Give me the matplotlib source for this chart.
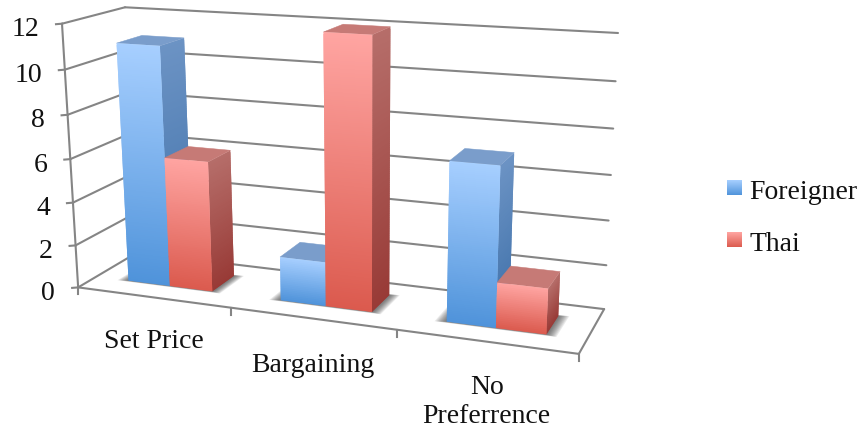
import numpy as np
import matplotlib
matplotlib.use("Agg")
import matplotlib.pyplot as plt
from matplotlib.collections import PolyCollection
from matplotlib.colors import to_rgb
from matplotlib.patches import Polygon

# Chart data
categories = ["Set Price", "Bargaining", "No\nPreferrence"]
series_names = ["Foreigner", "Thai"]
foreigner = [11, 2, 7]
thai = [6, 12, 2]
value_ticks = [0, 2, 4, 6, 8, 10, 12]

# Face colours per series: front top/bottom, side top/bottom, cap
palette = {
    "Foreigner": ("#A7CFFF", "#4F93DA", "#6C93C4", "#3E70A9", "#7A9DCB"),
    "Thai": ("#FFA5A2", "#DB5A4E", "#B66E6A", "#983A36", "#C67A76"),
}
GRID = "#858585"
FONT = "Liberation Serif"
W, H = 863, 431

# Oblique view of the chart box: (category, value, depth) -> canvas position
view_world = np.array([
    (0, 0, 0), (3, 0, 0), (3, 0, 1), (0, 0, 1), (0, 12, 0), (0, 12, 1), (3, 12, 1),
], float)
view_canvas = np.array([
    (78, 288), (579, 355), (604, 310), (137, 254), (62, 25), (125, 8), (618, 34),
], float)


def fit_view(world, canvas):
    rows, rhs = [], []
    for (x, y, z), (u, v) in zip(world, canvas):
        rows.append([x, y, z, 1, 0, 0, 0, 0, -u * x, -u * y, -u * z])
        rows.append([0, 0, 0, 0, x, y, z, 1, -v * x, -v * y, -v * z])
        rhs += [u, v]
    sol = np.linalg.lstsq(np.array(rows), np.array(rhs), rcond=None)[0]
    return np.append(sol, 1).reshape(3, 4)


VIEW = fit_view(view_world, view_canvas)


def project(x, y, z):
    h = VIEW @ np.array([x, y, z, 1.0])
    return h[0] / h[2], h[1] / h[2]


def mix(a, b, t):
    a, b = np.array(to_rgb(a)), np.array(to_rgb(b))
    return tuple(a + (b - a) * t)


def vertical_face(ax, corners_low, height, top, bottom, zorder):
    """Quad standing on two base corners, shaded in bands that overlap the next one."""
    (x0, z0), (x1, z1) = corners_low
    n = max(8, int(12 * height))
    levels = np.linspace(height, 0, n + 1)
    polys, cols = [], []
    for i in range(n):
        a, b = levels[i], levels[min(i + 2, n)]
        polys.append([project(x0, a, z0), project(x1, a, z1),
                      project(x1, b, z1), project(x0, b, z0)])
        cols.append(mix(top, bottom, (i + 0.5) / n))
    ax.add_collection(PolyCollection(polys, facecolors=cols, edgecolors="none",
                                     linewidths=0, zorder=zorder))


def draw_shadow(ax, x0, x1, z0, z1, zorder):
    steps = 9
    for k in range(steps):
        grow = 0.065 * (1 - k / steps)
        pts = [project(x0 - grow, 0, z0 - grow * 0.4), project(x1 + grow * 0.9, 0, z0 - grow * 0.4),
               project(x1 + grow * 0.9, 0, z1 + grow * 0.4), project(x0 - grow, 0, z1 + grow * 0.4)]
        ax.add_patch(Polygon(pts, closed=True, facecolor="#303030", edgecolor="none",
                             alpha=0.1, zorder=zorder))


def draw_bar(ax, x0, x1, z0, z1, value, colours, zorder):
    front_top, front_bot, side_top, side_bot, cap = colours
    vertical_face(ax, ((x1, z1), (x1, z0)), value, side_top, side_bot, zorder)
    ax.add_patch(Polygon([project(x0, value, z0), project(x1, value, z0),
                          project(x1, value, z1), project(x0, value, z1)],
                         closed=True, facecolor=cap, edgecolor=cap, linewidth=0.35,
                         zorder=zorder))
    vertical_face(ax, ((x0, z0), (x1, z0)), value, front_top, front_bot, zorder + 0.1)


def line3(ax, a, b, **kw):
    pa, pb = project(*a), project(*b)
    ax.plot([pa[0], pb[0]], [pa[1], pb[1]], color=GRID, lw=1.5,
            solid_capstyle="round", zorder=2, **kw)


fig = plt.figure(figsize=(W / 100, H / 100), dpi=100, facecolor="white")
ax = fig.add_axes([0, 0, 1, 1])
ax.set_xlim(0, W)
ax.set_ylim(H, 0)
ax.axis("off")

n_cat = len(categories)
top_value = value_ticks[-1]

# Gridlines on the back and side walls, with value labels
for v in value_ticks:
    line3(ax, (0, v, 0), (0, v, 1))
    line3(ax, (0, v, 1), (n_cat, v, 1))
    u, w = project(0, v, 0)
    ax.plot([u - 6, u], [w + 0.5, w], color=GRID, lw=1.5, zorder=2)
    ax.text(u - 23, w + 5, str(v), ha="right", va="center", fontsize=20,
            family=FONT, color="#111111")

# Chart box edges
line3(ax, (0, 0, 0), (0, top_value, 0))
line3(ax, (0, 0, 0), (n_cat, 0, 0))
line3(ax, (n_cat, 0, 0), (n_cat, 0, 1))

# Category ticks and labels along the front edge
for i in range(n_cat + 1):
    u, w = project(i, 0, 0)
    ax.plot([u, u], [w, w + 7], color=GRID, lw=1.5, zorder=2)
label_drop = [43, 46, 59.5]
for i, name in enumerate(categories):
    u, w = project(i + 0.5, 0, 0)
    ax.text(u + 1, w + label_drop[i], name, ha="center", va="center", fontsize=20,
            family=FONT, color="#111111", linespacing=1.25)

# Bars, left to right
gap = 0.22
bar_w = (1 - 2 * gap) / 2
z_front, z_back = 0.3, 0.72
for i in range(n_cat):
    draw_shadow(ax, i + gap, i + 1 - gap, z_front, z_back, 3 + i)
    draw_bar(ax, i + gap, i + gap + bar_w, z_front, z_back, foreigner[i],
             palette["Foreigner"], 4 + i)
    draw_bar(ax, i + gap + bar_w, i + gap + 2 * bar_w, z_front, z_back, thai[i],
             palette["Thai"], 4.3 + i)

# Legend
for name, y_top in zip(series_names, (181, 233)):
    top, bottom = palette[name][:2]
    polys = [[(727, y_top + a), (742, y_top + a), (742, y_top + min(a + 2, 15)),
              (727, y_top + min(a + 2, 15))] for a in range(15)]
    cols = [mix(top, bottom, (k + 0.5) / 15) for k in range(15)]
    ax.add_collection(PolyCollection(polys, facecolors=cols, edgecolors="none", linewidths=0))
    ax.text(749, y_top + 12, name, ha="left", va="center", fontsize=20,
            family=FONT, color="#111111")

fig.savefig("out.png", dpi=100, facecolor="white")
